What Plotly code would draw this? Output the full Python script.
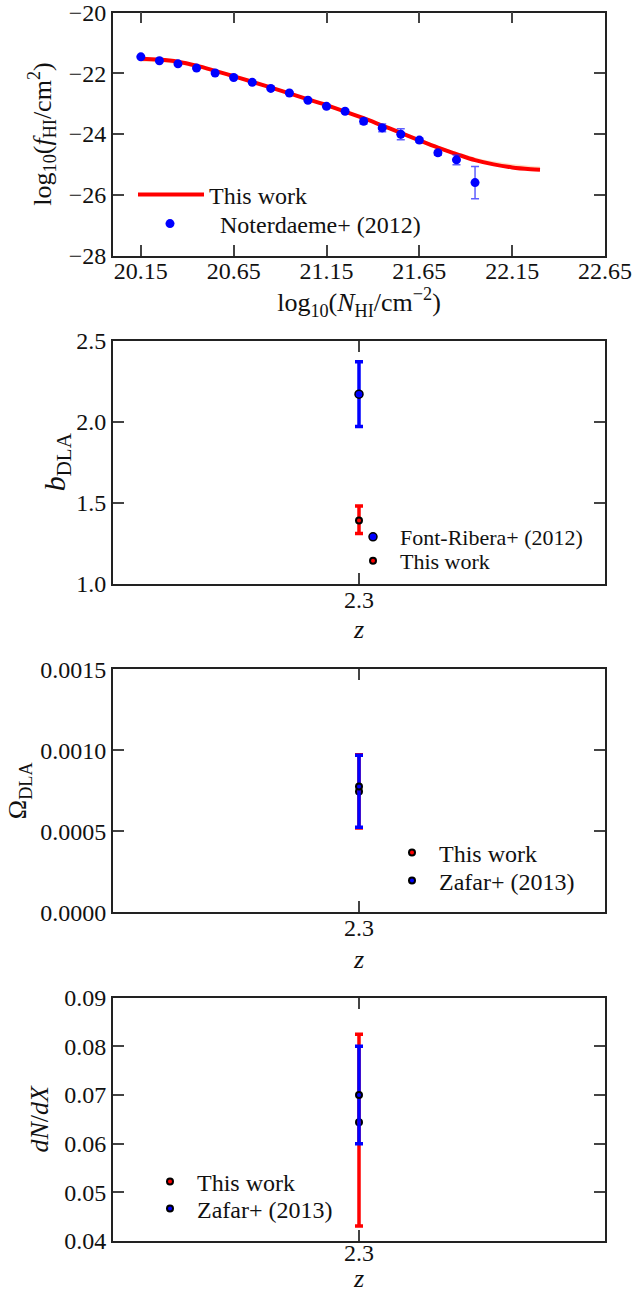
import plotly.graph_objects as go

# ---------------- data ----------------
# Column-density distribution f(N_HI): best fit and its band
fit_logN = [20.15, 20.25, 20.35, 20.45, 20.55, 20.65, 20.75, 20.85, 20.95, 21.05, 21.15, 21.25,
            21.35, 21.45, 21.55, 21.65, 21.75, 21.85, 21.95, 22.05, 22.15, 22.25, 22.30]
fit_logf = [-21.52, -21.55, -21.62, -21.75, -21.92, -22.10, -22.28, -22.47, -22.66, -22.86, -23.05, -23.26,
            -23.48, -23.72, -23.96, -24.21, -24.45, -24.66, -24.86, -25.00, -25.10, -25.16, -25.18]
fit_lo = [-21.62, -21.64, -21.70, -21.82, -21.98, -22.15, -22.33, -22.52, -22.71, -22.91, -23.10, -23.31,
          -23.53, -23.77, -24.01, -24.26, -24.50, -24.71, -24.90, -25.04, -25.14, -25.20, -25.22]
fit_hi = [-21.48, -21.51, -21.58, -21.71, -21.88, -22.06, -22.24, -22.43, -22.62, -22.82, -23.01, -23.22,
          -23.44, -23.68, -23.92, -24.16, -24.39, -24.59, -24.77, -24.90, -24.99, -25.05, -25.07]

# Noterdaeme+ (2012) measurements
n12_logN = [20.15, 20.25, 20.35, 20.45, 20.55, 20.65, 20.75, 20.85, 20.95, 21.05, 21.15, 21.25,
            21.35, 21.45, 21.55, 21.65, 21.75, 21.85, 21.95]
n12_logf = [-21.46, -21.59, -21.69, -21.83, -21.99, -22.14, -22.30, -22.50, -22.65, -22.89, -23.09, -23.25,
            -23.58, -23.80, -24.01, -24.20, -24.62, -24.85, -25.60]
n12_err = [0.01, 0.01, 0.01, 0.02, 0.02, 0.02, 0.02, 0.03, 0.03, 0.03, 0.04, 0.05,
           0.09, 0.13, 0.18, 0.07, 0.08, 0.16, 0.53]

z_eff = [2.3]

# DLA bias
bias_this = [1.39]
bias_this_up = [0.09]
bias_this_dn = [0.08]
bias_fr12 = [2.17]
bias_fr12_err = [0.20]

# Omega_DLA
omega_this = [0.000745]
omega_this_up = [0.000228]
omega_this_dn = [0.000224]
omega_z13 = [0.000776]
omega_z13_up = [0.000193]
omega_z13_dn = [0.000251]

# dN/dX
dndx_this = [0.0644]
dndx_this_up = [0.0181]
dndx_this_dn = [0.0213]
dndx_z13 = [0.070]
dndx_z13_err = [0.010]

# ---------------- style ----------------
FONT = "'Liberation Serif', 'DejaVu Serif', 'Noto Serif', serif"
BLUE = "#0000ff"
RED = "#ff0000"
AX = "#222222"
H = 1293.0
W = 634.0

fig = go.Figure()

# Panel 1: f(N_HI)
fig.add_trace(go.Scatter(x=fit_logN, y=fit_hi, mode="lines", line=dict(width=0, shape="spline"),
                         showlegend=False, hoverinfo="skip", xaxis="x", yaxis="y"))
fig.add_trace(go.Scatter(x=fit_logN, y=fit_lo, mode="lines", line=dict(width=0, shape="spline"),
                         fill="tonexty", fillcolor="rgba(255,214,180,0.75)",
                         showlegend=False, hoverinfo="skip", xaxis="x", yaxis="y"))
fig.add_trace(go.Scatter(x=fit_logN, y=fit_logf, mode="lines", name="This work",
                         line=dict(color=RED, width=4, shape="spline"),
                         xaxis="x", yaxis="y", legend="legend"))
fig.add_trace(go.Scatter(x=n12_logN, y=n12_logf, mode="markers", name="Noterdaeme+ (2012)",
                         marker=dict(color=BLUE, size=9),
                         error_y=dict(type="data", array=n12_err, color="rgba(40,40,255,0.75)",
                                      thickness=1.5, width=4),
                         xaxis="x", yaxis="y", legend="legend2"))

# Panel 2: bias
fig.add_trace(go.Scatter(x=z_eff, y=bias_fr12, mode="markers", name="Font-Ribera+ (2012)",
                         marker=dict(color=BLUE, size=8, line=dict(color="black", width=1.5)),
                         error_y=dict(type="data", array=bias_fr12_err, color=BLUE, thickness=3.5, width=4),
                         xaxis="x2", yaxis="y2", legend="legend3"))
fig.add_trace(go.Scatter(x=z_eff, y=bias_this, mode="markers", name="This work",
                         marker=dict(color=RED, size=6, line=dict(color="black", width=2)),
                         error_y=dict(type="data", array=bias_this_up, arrayminus=bias_this_dn,
                                      color=RED, thickness=3.5, width=4),
                         xaxis="x2", yaxis="y2", legend="legend4"))

# Panel 3: Omega_DLA
fig.add_trace(go.Scatter(x=z_eff, y=omega_this, mode="markers", name="This work",
                         marker=dict(color=RED, size=6, line=dict(color="black", width=2)),
                         error_y=dict(type="data", array=omega_this_up, arrayminus=omega_this_dn,
                                      color=RED, thickness=3.5, width=4),
                         xaxis="x3", yaxis="y3", legend="legend5"))
fig.add_trace(go.Scatter(x=z_eff, y=omega_z13, mode="markers", name="Zafar+ (2013)",
                         marker=dict(color=BLUE, size=6, line=dict(color="black", width=2)),
                         error_y=dict(type="data", array=omega_z13_up, arrayminus=omega_z13_dn,
                                      color=BLUE, thickness=3.5, width=4),
                         xaxis="x3", yaxis="y3", legend="legend6"))

# Panel 4: dN/dX
fig.add_trace(go.Scatter(x=z_eff, y=dndx_this, mode="markers", name="This work",
                         marker=dict(color=RED, size=6, line=dict(color="black", width=2)),
                         error_y=dict(type="data", array=dndx_this_up, arrayminus=dndx_this_dn,
                                      color=RED, thickness=3.5, width=4),
                         xaxis="x4", yaxis="y4", legend="legend7"))
fig.add_trace(go.Scatter(x=z_eff, y=dndx_z13, mode="markers", name="Zafar+ (2013)",
                         marker=dict(color=BLUE, size=6, line=dict(color="black", width=2)),
                         error_y=dict(type="data", array=dndx_z13_err, color=BLUE, thickness=3.5, width=4),
                         xaxis="x4", yaxis="y4", legend="legend8"))


def axis(**kw):
    base = dict(showline=True, linecolor=AX, linewidth=1.8, mirror="ticks",
                ticks="inside", ticklen=11, tickwidth=1.5, tickcolor="#444444",
                showgrid=False, zeroline=False, automargin=False, ticklabeloverflow="allow",
                tickfont=dict(family=FONT, size=24, color="#111111"),
                title_font=dict(family=FONT, size=26, color="#111111"))
    base.update(kw)
    return base


def legend_at(left_x, row_y, size=24, width=30):
    # one legend entry: left edge in pixels, vertically centred on row_y
    return dict(x=left_x / W, y=1 - row_y / H, xanchor="left", yanchor="middle",
                bgcolor="rgba(0,0,0,0)", borderwidth=0, itemwidth=width,
                font=dict(family=FONT, size=size, color="#111111"))


XDOM = [113 / W, 605 / W]
doms = [[1 - 255.5 / H, 1 - 12.5 / H], [1 - 583.8 / H, 1 - 340.7 / H],
        [1 - 912.3 / H, 1 - 669.3 / H], [1 - 1241.0 / H, 1 - 997.7 / H]]


def z_axis(standoff, label_shift=-7):
    return dict(range=[2.2, 2.4], tickvals=z_eff, tickformat=".1f", ticklabelstandoff=label_shift,
                title=dict(text="<i>z</i>", standoff=standoff))


fig.update_layout(
    width=634, height=1293,
    margin=dict(l=0, r=0, t=0, b=0, autoexpand=False),
    paper_bgcolor="white", plot_bgcolor="white",
    font=dict(family=FONT, size=24, color="#111111"),
    xaxis=axis(domain=XDOM, anchor="y", range=[20.0, 22.65],
               tickvals=[20.15, 20.65, 21.15, 21.65, 22.15, 22.65], tickformat=".2f",
               ticklabelstandoff=-7,
               title=dict(text="log<sub>10</sub>(<i>N</i><sub>HI</sub>/cm<sup>−2</sup>)", standoff=0)),
    yaxis=axis(domain=doms[0], anchor="x", range=[-28, -20], dtick=2, tickformat="d",
               title=dict(text="log<sub>10</sub>(<i>f</i><sub>HI</sub>/cm<sup>2</sup>)", standoff=10)),
    xaxis2=axis(domain=XDOM, anchor="y2", **z_axis(8)),
    yaxis2=axis(domain=doms[1], anchor="x2", range=[1.0, 2.5], dtick=0.5, tickformat=".1f",
                title=dict(text="<i>b</i><sub>DLA</sub>", standoff=2, font=dict(family=FONT, size=30))),
    xaxis3=axis(domain=XDOM, anchor="y3", **z_axis(10)),
    yaxis3=axis(domain=doms[2], anchor="x3", range=[0, 0.0015], dtick=0.0005, tickformat=".4f",
                title=dict(text="Ω<sub>DLA</sub>", standoff=6)),
    xaxis4=axis(domain=XDOM, anchor="y4", **z_axis(12, label_shift=-11)),
    yaxis4=axis(domain=doms[3], anchor="x4", range=[0.04, 0.09], dtick=0.01, tickformat=".2f",
                title=dict(text="<i>dN</i>/<i>dX</i>", standoff=8)),
    legend=legend_at(133, 195, width=66),
    legend2=legend_at(120, 224, width=90),
    legend3=legend_at(346, 537, size=22, width=44),
    legend4=legend_at(346, 561, size=22, width=44),
    legend5=legend_at(385, 853, width=44),
    legend6=legend_at(385, 881, width=44),
    legend7=legend_at(143, 1182, width=44),
    legend8=legend_at(143, 1209, width=44),
)

fig.write_html("out.html")
